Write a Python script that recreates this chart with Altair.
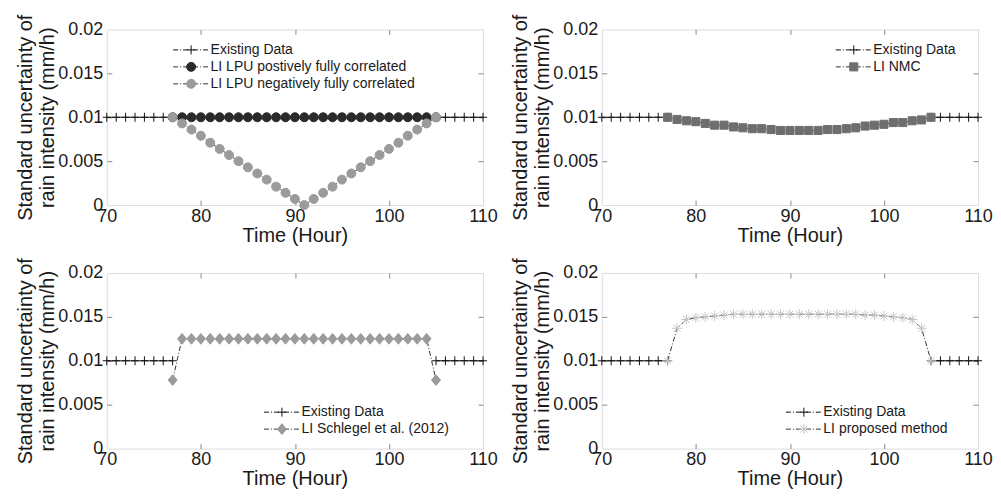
import altair as alt
import pandas as pd

FONT = "Liberation Sans"
W, H = 377, 176

# ---------------- data ----------------
EXIST_HOURS = [70, 71, 72, 73, 74, 75, 76, 77, 105, 106, 107, 108, 109, 110]
EXIST_VALUES = [0.01, 0.01, 0.01, 0.01, 0.01, 0.01, 0.01, 0.01,
                0.01, 0.01, 0.01, 0.01, 0.01, 0.01]
EXIST_SEG = ["a", "a", "a", "a", "a", "a", "a", "a", "b", "b", "b", "b", "b", "b"]

LI_HOURS = [77, 78, 79, 80, 81, 82, 83, 84, 85, 86, 87, 88, 89, 90, 91,
            92, 93, 94, 95, 96, 97, 98, 99, 100, 101, 102, 103, 104, 105]

LPU_POS = [0.01, 0.01, 0.01, 0.01, 0.01, 0.01, 0.01, 0.01, 0.01, 0.01,
           0.01, 0.01, 0.01, 0.01, 0.01, 0.01, 0.01, 0.01, 0.01, 0.01,
           0.01, 0.01, 0.01, 0.01, 0.01, 0.01, 0.01, 0.01, 0.01]
LPU_NEG = [0.0100, 0.0093, 0.0086, 0.0079, 0.0071, 0.0064, 0.0057, 0.0050,
           0.0043, 0.0036, 0.0029, 0.0021, 0.0014, 0.0007, 0.0000, 0.0007,
           0.0014, 0.0021, 0.0029, 0.0036, 0.0043, 0.0050, 0.0057, 0.0064,
           0.0071, 0.0079, 0.0086, 0.0093, 0.0100]
NMC = [0.0100, 0.00975, 0.0096, 0.0095, 0.0093, 0.0091, 0.0091, 0.0089,
       0.0088, 0.0087, 0.0087, 0.0086, 0.0085, 0.0085, 0.0085, 0.0085,
       0.0085, 0.0086, 0.0086, 0.0087, 0.0088, 0.0090, 0.0091, 0.0092,
       0.0094, 0.0094, 0.0096, 0.0097, 0.0100]
SCHLEGEL = [0.0078, 0.0125, 0.0125, 0.0125, 0.0125, 0.0125, 0.0125, 0.0125,
            0.0125, 0.0125, 0.0125, 0.0125, 0.0125, 0.0125, 0.0125, 0.0125,
            0.0125, 0.0125, 0.0125, 0.0125, 0.0125, 0.0125, 0.0125, 0.0125,
            0.0125, 0.0125, 0.0125, 0.0125, 0.0078]
PROPOSED = [0.0100, 0.0137, 0.0147, 0.0149, 0.0150, 0.0151, 0.0152, 0.0153,
            0.0153, 0.0153, 0.0153, 0.0153, 0.0153, 0.0153, 0.0153, 0.0153,
            0.0153, 0.0153, 0.0153, 0.0153, 0.0153, 0.0152, 0.0152, 0.0151,
            0.0150, 0.0149, 0.0147, 0.0137, 0.0100]

X_TICKS = [70, 80, 90, 100, 110]
Y_TICKS = [0, 0.005, 0.01, 0.015, 0.02]
X_INNER = [80, 90, 100]
Y_INNER = [0.005, 0.01, 0.015]

# marker shapes (unit = 9 px at size 324)
CROSS = "M-0.45,0L0.45,0M0,-0.5L0,0.5"
CIRCLE = ("M0.5,0C0.5,0.276,0.276,0.5,0,0.5C-0.276,0.5,-0.5,0.276,-0.5,0"
          "C-0.5,-0.276,-0.276,-0.5,0,-0.5C0.276,-0.5,0.5,-0.276,0.5,0Z")
SQUARE = "M-0.45,-0.45L0.45,-0.45L0.45,0.45L-0.45,0.45Z"
DIAMOND = "M0,-0.6L0.5,0L0,0.6L-0.5,0Z"
STAR = ("M-0.55,0L0.55,0M0,-0.55L0,0.55M-0.39,-0.39L0.39,0.39"
        "M-0.39,0.39L0.39,-0.39")

existing = dict(name="Existing Data", hours=EXIST_HOURS, values=EXIST_VALUES,
                seg=EXIST_SEG, shape=CROSS, fill="#111111", stroke="#111111",
                line="#111111", ls="solid")


def li(name, values, shape, fill, stroke):
    return dict(name=name, hours=LI_HOURS, values=values, seg=["c"] * len(values),
                shape=shape, fill=fill, stroke=stroke, line="#333333", ls="dashdot")


def panel(series, pid, lx, ly):
    rows = []
    for i, s in enumerate(series):
        code = f"{pid}_{i}"
        for h, v, sg in zip(s["hours"], s["values"], s["seg"]):
            rows.append(dict(x=h, y=v, series_l=s["name"], code=code,
                             seg=f"{i}{sg}", ls=s["ls"]))
    df = pd.DataFrame(rows)
    names = [s["name"] for s in series]
    codes = [f"{pid}_{i}" for i in range(len(series))]

    xs = alt.Scale(domain=[70, 110], nice=False, zero=False)
    ys = alt.Scale(domain=[0, 0.02], nice=False, zero=False)

    common_lab = dict(labelFont=FONT, labelFontSize=18, labelColor="#1a1a1a",
                      titleFont=FONT, titleFontSize=20, titleFontWeight="normal",
                      titleColor="#1a1a1a", tickSize=0, domain=False, grid=False,
                      labelOverlap=False, labelFlush=False)
    ax_x = alt.Axis(values=X_TICKS, title="Time (Hour)", labelPadding=2,
                    titlePadding=0, **common_lab)
    ax_y = alt.Axis(values=Y_TICKS, format="~g", labelPadding=4,
                    title=["Standard uncertainty of", "rain intensity (mm/h)"],
                    titleLineHeight=22, titlePadding=0, **common_lab)

    tick_common = dict(labels=False, domain=False, grid=False, title=None,
                       tickSize=5, tickColor="#888888", tickWidth=1)
    ax_x_b = alt.Axis(values=X_INNER, orient="top", offset=-H, **tick_common)
    ax_x_t = alt.Axis(values=X_INNER, orient="bottom", offset=-H, **tick_common)
    ax_y_l = alt.Axis(values=Y_INNER, orient="right", offset=-W, **tick_common)
    ax_y_r = alt.Axis(values=Y_INNER, orient="left", offset=-W, **tick_common)

    leg_common = dict(orient="none", legendX=lx, legendY=ly, title=None,
                      symbolSize=324, rowPadding=0, labelOffset=10,
                      labelFont=FONT, labelFontSize=14, labelColor="#1a1a1a",
                      labelLimit=500, padding=0)

    lines = alt.Chart(df).mark_line(strokeWidth=1).encode(
        x=alt.X("x:Q", scale=xs, axis=ax_x),
        y=alt.Y("y:Q", scale=ys, axis=ax_y),
        color=alt.Color("series_l:N",
                        scale=alt.Scale(domain=names, range=[s["line"] for s in series]),
                        legend=alt.Legend(symbolType="M-2,0L2,0", symbolStrokeWidth=1,
                                          symbolDash=[5, 2, 1, 2], **leg_common)),
        strokeDash=alt.StrokeDash("ls:N",
                                  scale=alt.Scale(domain=["solid", "dashdot"],
                                                  range=[[1, 0], [5, 2, 1, 2]]),
                                  legend=None),
        detail="seg:N",
        order="x:Q",
    )

    mleg = alt.Legend(labelExpr="''", symbolStrokeWidth=1, **leg_common)
    points = alt.Chart(df).mark_point(filled=True, size=324, strokeWidth=1,
                                      opacity=1).encode(
        x=alt.X("x:Q", scale=xs, axis=ax_x_b),
        y=alt.Y("y:Q", scale=ys, axis=ax_y_l),
        shape=alt.Shape("code:N", scale=alt.Scale(domain=codes,
                                                  range=[s["shape"] for s in series]),
                        legend=mleg),
        fill=alt.Fill("code:N", scale=alt.Scale(domain=codes,
                                                range=[s["fill"] for s in series]),
                      legend=mleg),
        stroke=alt.Stroke("code:N", scale=alt.Scale(domain=codes,
                                                    range=[s["stroke"] for s in series]),
                          legend=mleg),
    )

    dummy = alt.Chart(df).mark_point(opacity=0, size=1).encode(
        x=alt.X("x:Q", scale=xs, axis=ax_x_t),
        y=alt.Y("y:Q", scale=ys, axis=ax_y_r),
    )

    return alt.layer(lines, points, dummy).resolve_axis(
        x="independent", y="independent").properties(width=W, height=H)


p1 = panel([existing,
            li("LI LPU postively fully correlated", LPU_POS, CIRCLE, "#2a2a2a", "#2a2a2a"),
            li("LI LPU negatively fully correlated", LPU_NEG, CIRCLE, "#9b9b9b", "#9b9b9b")],
           "p1", 75, 11)
p2 = panel([existing, li("LI NMC", NMC, SQUARE, "#6e6e6e", "#6e6e6e")], "p2", 243, 11)
p3 = panel([existing, li("LI Schlegel et al. (2012)", SCHLEGEL, DIAMOND, "#9b9b9b", "#9b9b9b")],
           "p3", 166, 130)
p4 = panel([existing, li("LI proposed method", PROPOSED, STAR, "#c4c4c4", "#c4c4c4")],
           "p4", 193, 130)

ind = dict(color="independent", fill="independent", stroke="independent",
           shape="independent", strokeDash="independent")
row1 = alt.hconcat(p1, p2, spacing=12).resolve_scale(**ind)
row2 = alt.hconcat(p3, p4, spacing=12).resolve_scale(**ind)
chart = alt.vconcat(row1, row2, spacing=11).resolve_scale(**ind).properties(
    padding={"left": 7, "top": 5, "right": 0, "bottom": 0}
).configure_view(stroke="#888888", strokeWidth=1).configure(background="white")

chart.save("out.html", embed_options={"renderer": "svg", "actions": False})
